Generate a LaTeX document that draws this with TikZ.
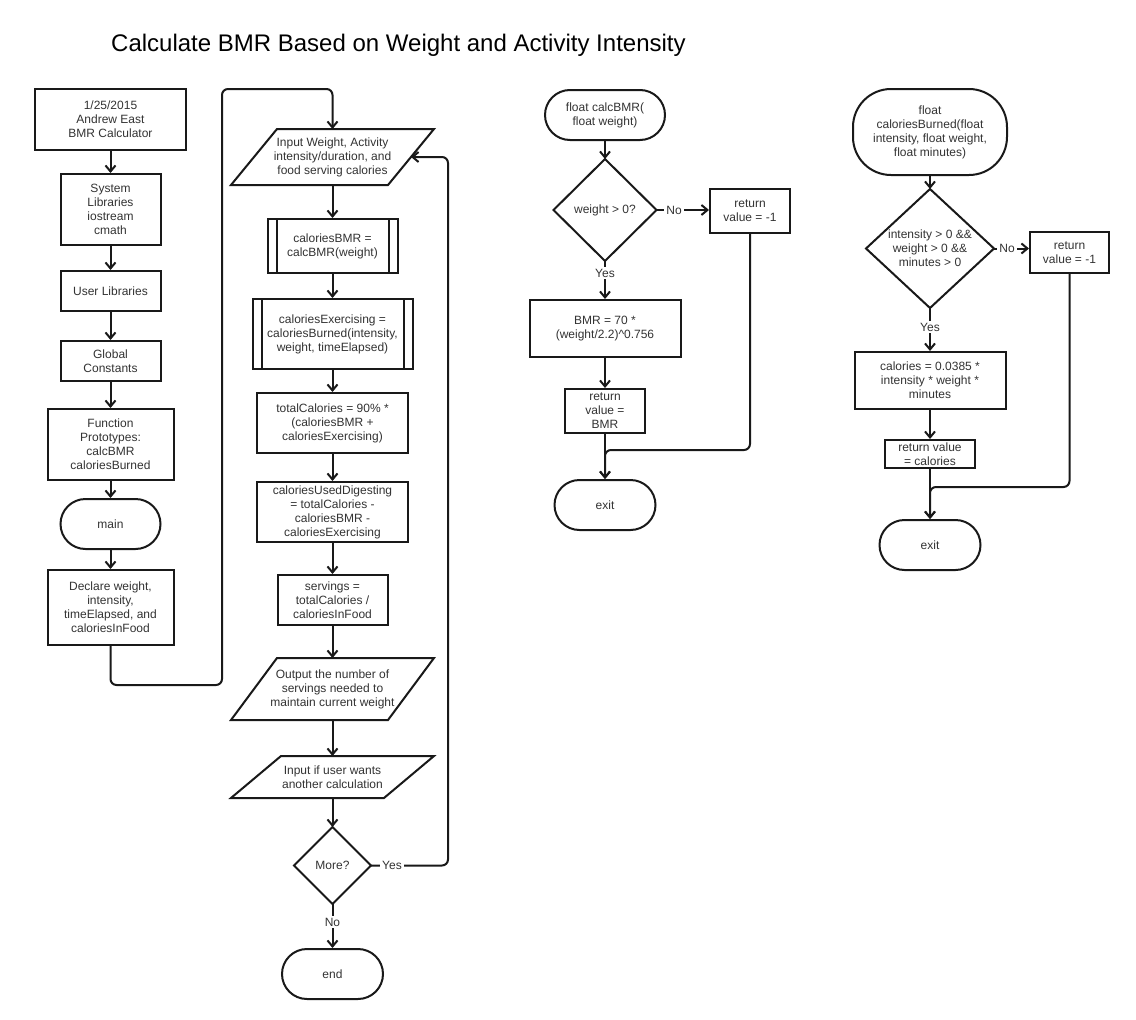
\documentclass[tikz,border=0pt]{standalone}
\usepackage{fontspec}
\setmainfont{Liberation Sans}
\usetikzlibrary{arrows.meta,calc}
\tikzset{
  base/.style={font=\fontsize{12}{14}\selectfont, text=black!80, align=center, inner sep=0pt, line width=2pt},
  procbox/.style={base, draw=black!90},
  termbox/.style={base, draw=black!90, rounded corners=25pt},
  shapeline/.style={line width=2pt, draw=black!90, line join=miter},
  conn/.style={line width=2pt, draw=black!90, -{Straight Barb[length=6pt,width=10pt]}, rounded corners=6pt},
  lbl/.style={font=\fontsize{12}{14}\selectfont, text=black!80, fill=white, inner sep=2pt}
}
\newcommand\predeflines[1]{%
  \draw[shapeline] ([xshift=10pt]#1.north west) -- ([xshift=10pt]#1.south west);
  \draw[shapeline] ([xshift=-10pt]#1.north east) -- ([xshift=-10pt]#1.south east);}
\newcommand\paraline[2]{%
  \draw[shapeline] ([xshift=#2]#1.north west) -- ([xshift=#2]#1.north east) -- ([xshift=-#2]#1.south east) -- ([xshift=-#2]#1.south west) -- cycle;}
\newcommand\diamline[1]{%
  \draw[shapeline] (#1.north) -- (#1.east) -- (#1.south) -- (#1.west) -- cycle;}
\begin{document}
\begin{tikzpicture}[x=1pt,y=-1pt]
\useasboundingbox (0,0) rectangle (1136,1020);
\fill[white] (0,0) rectangle (1136,1020);

\node[anchor=west, font=\fontsize{24}{28}\selectfont, inner sep=0pt] (title) at (111,45) {Calculate BMR Based on Weight and Activity Intensity};

% ---------- left column ----------
\node[procbox, minimum width=151pt, minimum height=61pt] (n1) at (110.5,119.5) {1/25/2015\\Andrew East\\BMR Calculator};
\node[procbox, minimum width=100pt, minimum height=71pt] (n2) at (110.5,209.5) {System\\Libraries\\iostream\\cmath};
\node[procbox, minimum width=100pt, minimum height=40pt] (n3) at (110.5,291) {User Libraries};
\node[procbox, minimum width=100pt, minimum height=40pt] (n4) at (110.5,361) {Global\\Constants};
\node[procbox, minimum width=126pt, minimum height=71pt] (n5) at (110.5,444.5) {Function\\Prototypes:\\calcBMR\\caloriesBurned};
\node[termbox, minimum width=100pt, minimum height=50pt] (n6) at (110.5,524) {main};
\node[procbox, minimum width=126pt, minimum height=75pt] (n7) at (110.5,607.5) {Declare weight,\\intensity,\\timeElapsed, and\\caloriesInFood};

\draw[conn] (n1) -- (n2);
\draw[conn] (n2) -- (n3);
\draw[conn] (n3) -- (n4);
\draw[conn] (n4) -- (n5);
\draw[conn] (n5) -- (n6);
\draw[conn] (n6) -- (n7);

% ---------- middle column ----------
\node[base, minimum width=155pt, minimum height=54pt] (m1) at (332.5,157) {Input Weight, Activity\\intensity/duration, and\\food serving calories};
\paraline{m1}{23pt}
\node[procbox, minimum width=130pt, minimum height=54pt] (m2) at (332.5,246) {caloriesBMR =\\calcBMR(weight)};
\predeflines{m2}
\node[procbox, minimum width=160pt, minimum height=70pt] (m3) at (332.5,334) {caloriesExercising =\\caloriesBurned(intensity,\\weight, timeElapsed)};
\predeflines{m3}
\node[procbox, minimum width=151pt, minimum height=60pt] (m4) at (332.5,423) {totalCalories = 90\% *\\(caloriesBMR +\\caloriesExercising)};
\node[procbox, minimum width=151pt, minimum height=60pt] (m5) at (332.5,512) {caloriesUsedDigesting\\= totalCalories -\\caloriesBMR -\\caloriesExercising};
\node[procbox, minimum width=110pt, minimum height=50pt] (m6) at (332.5,600) {servings =\\totalCalories /\\caloriesInFood};
\node[base, minimum width=155pt, minimum height=60pt] (m7) at (332.5,689) {Output the number of\\servings needed to\\maintain current weight};
\paraline{m7}{23pt}
\node[base, minimum width=151pt, minimum height=40pt] (m8) at (332.5,777) {Input if user wants\\another calculation};
\paraline{m8}{25pt}
\node[base, minimum width=75pt, minimum height=75pt] (m9) at (332.5,865.5) {More?};
\diamline{m9}
\node[termbox, minimum width=101pt, minimum height=50pt] (m10) at (332.5,974) {end};

\draw[conn] (n7.south) -- (110.5,685) -- (222,685) -- (222,89) -- (332.5,89) -- (m1.north);
\draw[conn] (m1) -- (m2);
\draw[conn] (m2) -- (m3);
\draw[conn] (m3) -- (m4);
\draw[conn] (m4) -- (m5);
\draw[conn] (m5) -- (m6);
\draw[conn] (m6) -- (m7);
\draw[conn] (m7) -- (m8);
\draw[conn] (m8) -- (m9.north);
\draw[conn] (m9.east) -- (448,865.5) -- (448,157) -- (m1.east);
\draw[conn] (m9.south) -- (m10.north);
\node[lbl] (yes1) at (392,865.5) {Yes};
\node[lbl] (no1) at (332.5,922) {No};

% ---------- calcBMR ----------
\node[termbox, minimum width=120pt, minimum height=50pt] (r1) at (605,115) {float calcBMR(\\float weight)};
\node[base, minimum width=101pt, minimum height=100pt] (r2) at (605,210) {weight > 0?};
\diamline{r2}
\node[procbox, minimum width=80pt, minimum height=44pt] (r3) at (750,211) {return\\value = -1};
\node[procbox, minimum width=151pt, minimum height=57pt] (r4) at (605,328.5) {BMR = 70 *\\(weight/2.2)\textasciicircum0.756};
\node[procbox, minimum width=80pt, minimum height=44pt] (r5) at (605,411) {return\\value =\\BMR};
\node[termbox, minimum width=101pt, minimum height=50pt] (r6) at (605,505) {exit};

\draw[conn] (r1) -- (r2.north);
\draw[conn] (r2.east) -- (r3.west |- r2.east);
\draw[conn] (r2.south) -- (r4.north);
\draw[conn] (r4) -- (r5);
\draw[conn] (r5) -- (r6);
\draw[conn] (r3.south) -- (750,450) -- (605,450) -- (r6.north);
\node[lbl] (no2) at (674,210) {No};
\node[lbl] (yes2) at (605,273) {Yes};

% ---------- caloriesBurned ----------
\node[termbox, rounded corners=38pt, minimum width=154pt, minimum height=86pt] (s1) at (930,132) {float\\caloriesBurned(float\\intensity, float weight,\\float minutes)};
\node[base, minimum width=126pt, minimum height=117pt] (s2) at (930,248.5) {intensity > 0 \&\&\\weight > 0 \&\&\\minutes > 0};
\diamline{s2}
\node[procbox, minimum width=79pt, minimum height=41pt] (s3) at (1069.5,252.5) {return\\value = -1};
\node[procbox, minimum width=151pt, minimum height=57pt] (s4) at (930,380.5) {calories = 0.0385 *\\intensity * weight *\\minutes};
\node[procbox, minimum width=90pt, minimum height=28pt] (s5) at (930,454) {return value\\= calories};
\node[termbox, minimum width=101pt, minimum height=50pt] (s6) at (930,545) {exit};

\draw[conn] (s1) -- (s2.north);
\draw[conn] (s2.east) -- (s3.west |- s2.east);
\draw[conn] (s2.south) -- (s4.north);
\draw[conn] (s4) -- (s5);
\draw[conn] (s5) -- (s6);
\draw[conn] (s3.south) -- (1069.5,487) -- (930,487) -- (s6.north);
\node[lbl] (no3) at (1007,248.5) {No};
\node[lbl] (yes3) at (930,327) {Yes};
\end{tikzpicture}
\end{document}
